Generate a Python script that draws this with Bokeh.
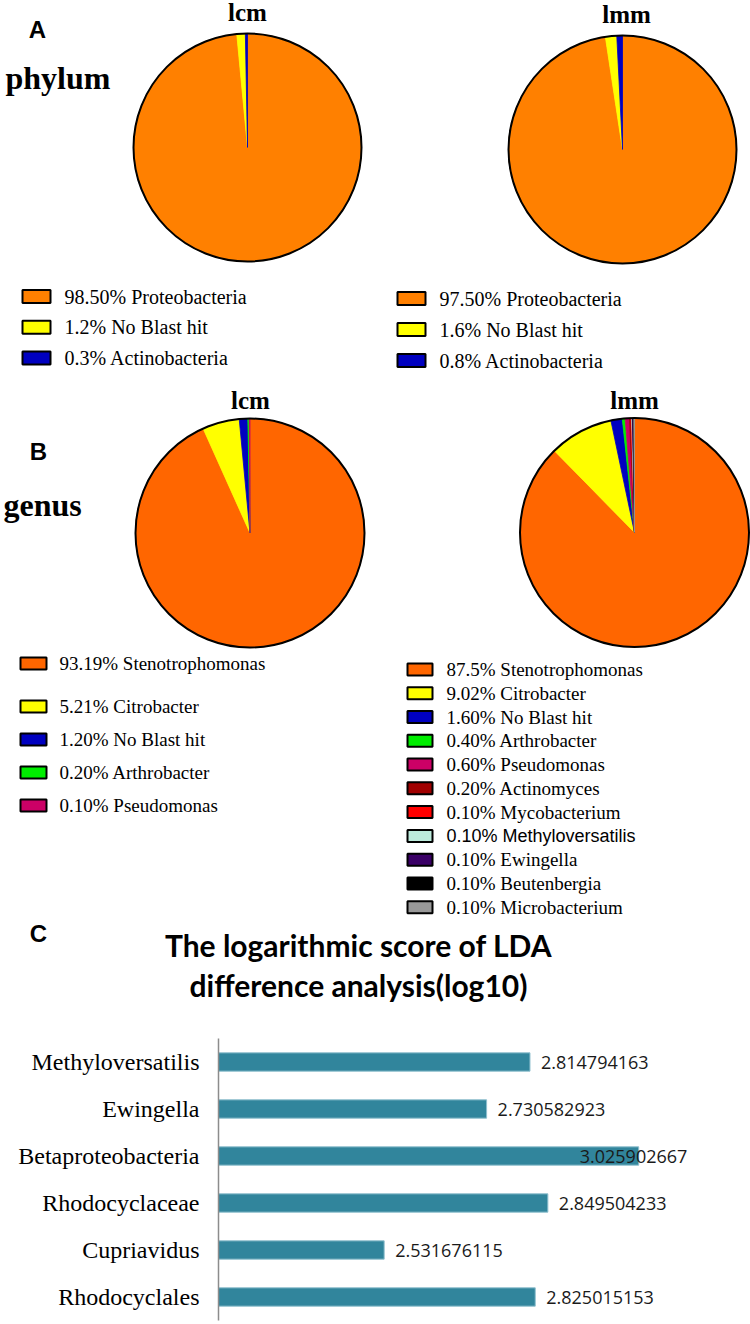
import math
from bokeh.plotting import figure
from bokeh.models import Range1d, FactorRange, ColumnDataSource
from bokeh.core.properties import value
from bokeh.embed import file_html
from bokeh.resources import INLINE

# ---------------- data ----------------
phylum_names = ["Proteobacteria", "No Blast hit", "Actinobacteria"]
phylum_colors = ["#FF8000", "#FFFF00", "#0000C0"]
phylum_lcm_pct = [98.50, 1.2, 0.3]
phylum_lcm_lbl = ["98.50%", "1.2%", "0.3%"]
phylum_lmm_pct = [97.50, 1.6, 0.8]
phylum_lmm_lbl = ["97.50%", "1.6%", "0.8%"]

genus_lcm_names = ["Stenotrophomonas", "Citrobacter", "No Blast hit", "Arthrobacter", "Pseudomonas"]
genus_lcm_colors = ["#FF6600", "#FFFF00", "#0000C0", "#00EE00", "#CC0066"]
genus_lcm_pct = [93.19, 5.21, 1.20, 0.20, 0.10]
genus_lcm_lbl = ["93.19%", "5.21%", "1.20%", "0.20%", "0.10%"]

genus_lmm_names = ["Stenotrophomonas", "Citrobacter", "No Blast hit", "Arthrobacter", "Pseudomonas",
                   "Actinomyces", "Mycobacterium", "Methyloversatilis", "Ewingella", "Beutenbergia",
                   "Microbacterium"]
genus_lmm_colors = ["#FF6600", "#FFFF00", "#0000C0", "#00EE00", "#CC0066",
                    "#A00000", "#FF0000", "#BDEBDC", "#3A0066", "#000000", "#999999"]
genus_lmm_pct = [87.5, 9.02, 1.60, 0.40, 0.60, 0.20, 0.10, 0.10, 0.10, 0.10, 0.10]
genus_lmm_lbl = ["87.5%", "9.02%", "1.60%", "0.40%", "0.60%", "0.20%", "0.10%", "0.10%",
                 "0.10%", "0.10%", "0.10%"]

lda_taxa = ["Methyloversatilis", "Ewingella", "Betaproteobacteria", "Rhodocyclaceae",
            "Cupriavidus", "Rhodocyclales"]
lda_scores = [2.814794163, 2.730582923, 3.025902667, 2.849504233, 2.531676115, 2.825015153]
LDA_MIN = 2.21
LDA_MAX = 3.243

# ---------------- layout helpers ----------------
W = 750
H1 = 1030
H2 = 294
OFF = 0


def X(px):
    return px - OFF


def Y(py):
    return (H1 + OFF) - py


p = figure(width=W, height=H1, x_range=Range1d(0, W), y_range=Range1d(0, H1),
           output_backend="svg", toolbar_location=None,
           x_axis_location=None, y_axis_location=None, min_border=0)
p.outline_line_color = None
p.background_fill_color = "white"
p.border_fill_color = "white"
for g in p.grid:
    g.visible = False

SERIF = "Liberation Serif"
SANS = "Liberation Sans"


def label(px, py, txt, font, size, style="normal", align="center"):
    p.text(x=[X(px)], y=[Y(py)], text=[txt], text_font=value(font), text_font_size=size,
           text_font_style=style, text_align=align, text_baseline="middle", text_color="black")


def pie(cx, cy, r, pcts, colors):
    total = float(sum(pcts))
    cum = 0.0
    starts, ends = [], []
    for v in pcts:
        starts.append(math.pi / 2 - 2 * math.pi * cum / total)
        cum += v
        ends.append(math.pi / 2 - 2 * math.pi * cum / total)
    n = len(pcts)
    src = ColumnDataSource(dict(x=[X(cx)] * n, y=[Y(cy)] * n, s=starts, e=ends, c=colors))
    p.wedge(x="x", y="y", radius=r, start_angle="s", end_angle="e", direction="clock",
            fill_color="c", line_color="c", line_width=0.8, source=src)
    p.circle(x=[X(cx)], y=[Y(cy)], radius=r, fill_color=None, line_color="black", line_width=2)


def legend(x_sq, w_sq, h_sq, x_txt, ys, pct_lbls, names, colors, size, sans_rows=()):
    n = len(names)
    texts = [a + "  " + b for a, b in zip(pct_lbls, names)]
    fonts = [SANS if nm in sans_rows else SERIF for nm in names]
    sizes = ["18px" if nm in sans_rows else size for nm in names]
    src = ColumnDataSource(dict(x=[X(x_sq + w_sq / 2)] * n, y=[Y(v) for v in ys], c=colors,
                                tx=[X(x_txt)] * n, t=texts, f=fonts, fs=sizes))
    p.rect(x="x", y="y", width=w_sq, height=h_sq, fill_color="c", line_color="black",
           line_width=2, source=src)
    p.text(x="tx", y="y", text="t", text_font="f", text_font_size="fs", text_baseline="middle",
           text_color="black", source=src)


# ---------------- panel A ----------------
label(37, 29, "A", SANS, "24px", "bold")
label(5, 77, "phylum", SERIF, "32px", "bold", align="left")
label(247, 11.5, "lcm", SERIF, "25px", "bold")
label(626, 14, "lmm", SERIF, "25px", "bold")
pie(247, 147, 114, phylum_lcm_pct, phylum_colors)
pie(622, 149, 114, phylum_lmm_pct, phylum_colors)
legend(22, 28, 13, 64, [296 + 30.7 * i for i in range(3)], phylum_lcm_lbl, phylum_names,
       phylum_colors, "20px")
legend(397, 28, 13, 439, [298 + 31 * i for i in range(3)], phylum_lmm_lbl, phylum_names,
       phylum_colors, "20px")

# ---------------- panel B ----------------
label(38, 451, "B", SANS, "24px", "bold")
label(3, 504, "genus", SERIF, "32px", "bold", align="left")
label(250, 400, "lcm", SERIF, "25px", "bold")
label(634, 400, "lmm", SERIF, "25px", "bold")
pie(249.5, 532.5, 114.5, genus_lcm_pct, genus_lcm_colors)
pie(634, 532, 114.5, genus_lmm_pct, genus_lmm_colors)
legend(20, 26, 12, 59, [663] + [706 + 33 * i for i in range(4)], genus_lcm_lbl,
       genus_lcm_names, genus_lcm_colors, "19px")
legend(407, 25, 12, 446, [669 + 23.77 * i for i in range(11)], genus_lmm_lbl,
       genus_lmm_names, genus_lmm_colors, "19px", sans_rows=("Methyloversatilis",))

# ---------------- panel C title ----------------
label(38, 933, "C", SANS, "24px", "bold")
label(358, 944, "The logarithmic score of LDA", "Lato", "30px", "bold")
label(358, 984, "difference analysis(log10)", "Lato", "30px", "bold")

# ---------------- panel C bars ----------------
p2 = figure(width=W, height=H2, y_range=FactorRange(*reversed(lda_taxa)),
            x_range=Range1d(LDA_MIN, LDA_MAX), x_axis_location=None,
            output_backend="svg", toolbar_location=None,
            min_border_left=218, min_border_top=8, min_border_bottom=4, min_border_right=0)
p2.outline_line_color = None
p2.background_fill_color = "white"
p2.border_fill_color = "white"
p2.ygrid.visible = False
p2.xgrid.visible = False

bsrc = ColumnDataSource(dict(
    y=lda_taxa, r=lda_scores,
    t=[repr(v) for v in lda_scores],
    off=[-59 if v == max(lda_scores) else 11 for v in lda_scores],
))
p2.hbar(y="y", right="r", left=LDA_MIN, height=0.39, fill_color="#31859C",
        line_color="#8FBFCE", line_width=1, source=bsrc)
p2.text(x="r", y="y", text="t", x_offset="off", text_baseline="middle",
        text_font=value("Open Sans"), text_font_size="18px", text_color="#1a1a1a", source=bsrc)

ax = p2.yaxis[0]
ax.axis_line_color = "#8c8c8c"
ax.axis_line_width = 1.5
ax.major_tick_line_color = None
ax.major_tick_out = 0
ax.major_tick_in = 0
ax.minor_tick_line_color = None
ax.major_label_text_font = SERIF
ax.major_label_text_font_size = "24px"
ax.major_label_text_color = "black"
ax.major_label_standoff = 19

open("out.html", "w").write(file_html([p, p2], INLINE))
